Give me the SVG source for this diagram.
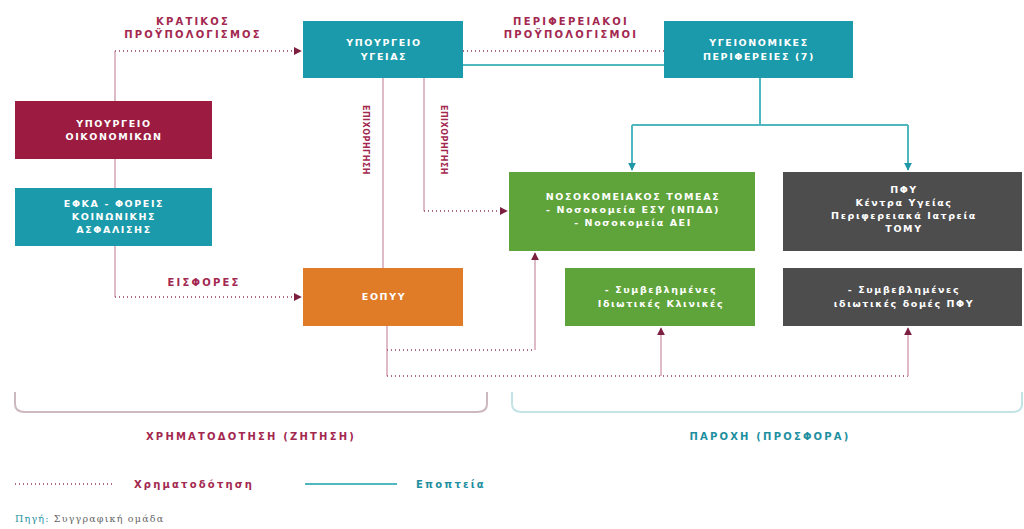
<svg xmlns="http://www.w3.org/2000/svg" width="1024" height="529" viewBox="0 0 1024 529">
<style>
.bx{font-family:"DejaVu Sans","Liberation Sans",Arial,sans-serif;font-weight:bold;font-size:9.5px;letter-spacing:1.6px;fill:#ffffff;text-anchor:middle}
.lb{font-family:"DejaVu Sans","Liberation Sans",Arial,sans-serif;font-weight:bold;font-size:10px;letter-spacing:2.2px;fill:#a3284f;text-anchor:middle}
.tl{font-family:"DejaVu Sans","Liberation Sans",Arial,sans-serif;font-weight:bold;font-size:10px;letter-spacing:2.2px;fill:#1e8fa0;text-anchor:middle}
.dot{fill:none;stroke:#b06a85;stroke-width:2;stroke-dasharray:1 3}
.thin{fill:none;stroke:#d4a3b4;stroke-width:1.5}
.sup{fill:none;stroke:#4fb7c0;stroke-width:2}
</style>
<defs>
<marker id="am" viewBox="0 0 10 10" refX="9" refY="5" markerWidth="8" markerHeight="8" markerUnits="userSpaceOnUse" orient="auto"><path d="M0,0 L10,5 L0,10 z" fill="#7c1f40"/></marker>
<marker id="at" viewBox="0 0 10 10" refX="9" refY="5" markerWidth="8" markerHeight="8" markerUnits="userSpaceOnUse" orient="auto"><path d="M0,0 L10,5 L0,10 z" fill="#1f97a6"/></marker>
</defs>
<rect width="1024" height="529" fill="#ffffff"/>
<g id="connectors">
<path class="thin" d="M115,51 V297"/>
<path class="dot" d="M115,51 H301" marker-end="url(#am)"/>
<path class="dot" d="M115,297 H301" marker-end="url(#am)"/>
<path class="dot" d="M463,51 H664"/>
<path class="sup" d="M463,65 H664"/>
<path class="sup" d="M760,78 V125 M632,125 H908"/>
<path class="sup" d="M632,125 V170" marker-end="url(#at)"/>
<path class="sup" d="M908,125 V170" marker-end="url(#at)"/>
<path class="thin" d="M383,78 V268"/>
<path class="thin" d="M424,78 V211"/>
<path class="dot" d="M424,211 H507" marker-end="url(#am)"/>
<path class="thin" d="M387,326 V376"/>
<path class="dot" d="M387,350 H535"/>
<path class="thin" d="M535,350 V253" marker-end="url(#am)"/>
<path class="dot" d="M387,376 H908"/>
<path class="thin" d="M661,376 V328" marker-end="url(#am)"/>
<path class="thin" d="M908,376 V328" marker-end="url(#am)"/>
</g>
<g id="n-ypourgeio-ygeias"><rect x="303" y="21" width="160" height="57" fill="#1a9aaa"/><text class="bx" x="384" y="46">ΥΠΟΥΡΓΕΙΟ</text><text class="bx" x="384" y="60">ΥΓΕΙΑΣ</text></g>
<g id="n-ype"><rect x="664" y="21" width="189" height="57" fill="#1a9aaa"/><text class="bx" x="759" y="46">ΥΓΕΙΟΝΟΜΙΚΕΣ</text><text class="bx" x="759" y="60">ΠΕΡΙΦΕΡΕΙΕΣ (7)</text></g>
<g id="n-oikonomikon"><rect x="15" y="101" width="197" height="58" fill="#9b1c40"/><text class="bx" x="114" y="127">ΥΠΟΥΡΓΕΙΟ</text><text class="bx" x="114" y="140">ΟΙΚΟΝΟΜΙΚΩΝ</text></g>
<g id="n-efka"><rect x="15" y="188" width="197" height="58" fill="#1a9aaa"/><text class="bx" x="114" y="207">ΕΦΚΑ - ΦΟΡΕΙΣ</text><text class="bx" x="114" y="220">ΚΟΙΝΩΝΙΚΗΣ</text><text class="bx" x="114" y="233">ΑΣΦΑΛΙΣΗΣ</text></g>
<g id="n-eopyy"><rect x="303" y="268" width="160" height="58" fill="#e07b28"/><text class="bx" x="384" y="300">ΕΟΠΥΥ</text></g>
<g id="n-nosokomeia"><rect x="509" y="172" width="246" height="79" fill="#5fa43b"/><text class="bx" x="633" y="200">ΝΟΣΟΚΟΜΕΙΑΚΟΣ ΤΟΜΕΑΣ</text><text class="bx" x="633" y="213">- Νοσοκομεία ΕΣΥ (ΝΠΔΔ)</text><text class="bx" x="633" y="226">- Νοσοκομεία ΑΕΙ</text></g>
<g id="n-klinikes"><rect x="565" y="268" width="190" height="58" fill="#5fa43b"/><text class="bx" x="661" y="293">- Συμβεβλημένες</text><text class="bx" x="661" y="307">Ιδιωτικές Κλινικές</text></g>
<g id="n-pfy"><rect x="783" y="172" width="239" height="79" fill="#4d4d4e"/><text class="bx" x="904" y="193">ΠΦΥ</text><text class="bx" x="904" y="206">Κέντρα Υγείας</text><text class="bx" x="904" y="219">Περιφερειακά Ιατρεία</text><text class="bx" x="904" y="232">ΤΟΜΥ</text></g>
<g id="n-domes"><rect x="783" y="268" width="239" height="58" fill="#4d4d4e"/><text class="bx" x="904" y="293">- Συμβεβλημένες</text><text class="bx" x="904" y="307">ιδιωτικές δομές ΠΦΥ</text></g>
<g id="labels">
<text class="lb" x="193" y="25">ΚΡΑΤΙΚΟΣ</text>
<text class="lb" x="193" y="38">ΠΡΟΫΠΟΛΟΓΙΣΜΟΣ</text>
<text class="lb" x="571" y="25">ΠΕΡΙΦΕΡΕΙΑΚΟΙ</text>
<text class="lb" x="571" y="38">ΠΡΟΫΠΟΛΟΓΙΣΜΟΙ</text>
<text class="lb" x="204" y="286">ΕΙΣΦΟΡΕΣ</text>
<text class="lb" transform="translate(363,140) rotate(90)" style="font-size:8px;letter-spacing:0.5px">ΕΠΙΧΟΡΗΓΗΣΗ</text>
<text class="lb" transform="translate(441,140) rotate(90)" style="font-size:8px;letter-spacing:0.5px">ΕΠΙΧΟΡΗΓΗΣΗ</text>
</g>
<g id="brackets">
<path d="M15,392 V404 Q15,412 25,412 H477 Q487,412 487,404 V392" fill="none" stroke="#cdb8c2" stroke-width="2"/>
<path d="M512,392 V404 Q512,412 522,412 H1012 Q1022,412 1022,404 V392" fill="none" stroke="#c3e3e6" stroke-width="2"/>
<text class="lb" x="251" y="440">ΧΡΗΜΑΤΟΔΟΤΗΣΗ (ΖΗΤΗΣΗ)</text>
<text class="tl" x="770" y="440">ΠΑΡΟΧΗ (ΠΡΟΣΦΟΡΑ)</text>
</g>
<g id="legend">
<path class="dot" d="M15,484 H112"/>
<text class="lb" x="194" y="488">Χρηματοδότηση</text>
<path class="sup" d="M305,484 H397"/>
<text class="tl" x="451" y="488">Εποπτεία</text>
<text x="15" y="522" style="font-family:'DejaVu Serif','Liberation Serif',serif;font-size:9.5px;letter-spacing:1.2px;fill:#666"><tspan fill="#1e8fa0">Πηγή:</tspan> Συγγραφική ομάδα</text>
</g>
</svg>
